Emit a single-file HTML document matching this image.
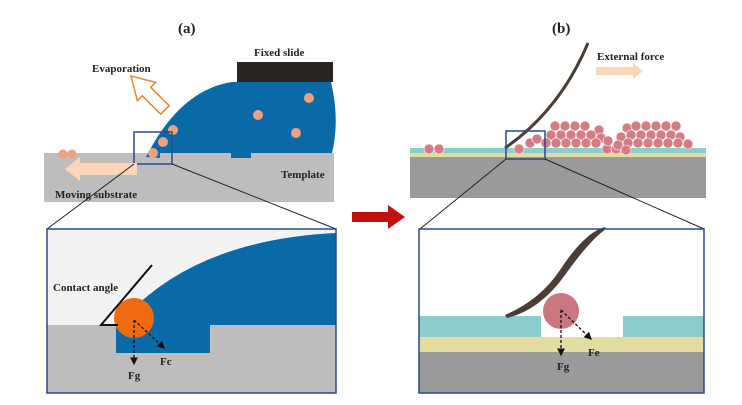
<!DOCTYPE html>
<html><head><meta charset="utf-8"><style>
html,body{margin:0;padding:0;background:#fff;width:742px;height:405px;overflow:hidden}
text{font-family:"Liberation Serif",serif;font-weight:bold;fill:#222}
</style></head><body>
<svg width="742" height="405" viewBox="0 0 742 405" xmlns="http://www.w3.org/2000/svg">
<defs>
<marker id="ah" markerWidth="6" markerHeight="6" refX="5" refY="3" orient="auto"><path d="M0,0 L6,3 L0,6 z" fill="#111"/></marker>
</defs>
<text x="178" y="33" font-size="15">(a)</text>
<text x="552" y="33" font-size="15">(b)</text>

<!-- panel a top -->
<rect x="44" y="153" width="290" height="49" fill="#bdbdbd"/>
<path d="M146,157 Q180,90 232,82 L331,82 Q340,120 332,153 L251,153 L251,158 L231,158 L231,153 L160,153 L160,158 Z" fill="#0a6aa8"/>
<rect x="237" y="62" width="96" height="20" fill="#2a2523"/>
<g fill="#f0a080">
<circle cx="173" cy="130" r="5"/><circle cx="163" cy="142" r="5"/><circle cx="153" cy="153" r="5"/>
<circle cx="258" cy="115" r="5"/><circle cx="309" cy="98" r="5"/><circle cx="296" cy="133" r="5"/>
<circle cx="63" cy="154" r="4.5"/><circle cx="72" cy="154" r="4.5"/>
</g>
<rect x="134" y="132" width="38" height="32" fill="none" stroke="#2a4a8a" stroke-width="1.5"/>
<path d="M137,163 L137,175 L80,175 L80,181 L65,169 L80,157 L80,163 Z" fill="#fcd6b8"/>
<path transform="translate(131,76) rotate(45)" d="M0,0 L22,-13 L22,-6 L48,-6 L48,6 L22,6 L22,13 Z" fill="#fff" stroke="#e08a30" stroke-width="1.5"/>
<text x="92" y="72" font-size="11">Evaporation</text>
<text x="254" y="56" font-size="11">Fixed slide</text>
<text x="281" y="178" font-size="11">Template</text>
<text x="55" y="198" font-size="11">Moving substrate</text>
<line x1="134" y1="164" x2="47" y2="229" stroke="#222" stroke-width="1"/>
<line x1="172" y1="164" x2="336" y2="229" stroke="#222" stroke-width="1"/>

<!-- panel a bottom -->
<rect x="47" y="229" width="289" height="164" fill="#f2f2f2"/>
<rect x="47" y="325" width="289" height="68" fill="#bdbdbd"/>
<path d="M118,325 Q190,240 336,233 L336,325 L210,325 L210,353 L116,353 L116,325 Z" fill="#0a6aa8"/>
<circle cx="134" cy="318" r="20" fill="#f06a10"/>
<polyline points="152,265 101,325 118,325" fill="none" stroke="#111" stroke-width="2"/>
<text x="53" y="291" font-size="11">Contact angle</text>
<line x1="134" y1="320" x2="134" y2="364" stroke="#111" stroke-width="1.3" stroke-dasharray="3,2" marker-end="url(#ah)"/>
<line x1="134" y1="320" x2="164" y2="348" stroke="#111" stroke-width="1.3" stroke-dasharray="3,2" marker-end="url(#ah)"/>
<text x="128" y="379" font-size="11">Fg</text>
<text x="160" y="365" font-size="11">Fc</text>
<rect x="47" y="229" width="289" height="164" fill="none" stroke="#2a4a8a" stroke-width="1.5"/>

<!-- red arrow -->
<path d="M352,212 L388,212 L388,205 L405,217 L388,229 L388,222 L352,222 Z" fill="#c01010"/>

<!-- panel b top -->
<rect x="410" y="157" width="296" height="41" fill="#9a9a9a"/>
<rect x="410" y="153" width="296" height="4" fill="#e2dca0"/>
<rect x="410" y="148" width="296" height="5" fill="#8ccccc"/>
<g fill="#d47c84" stroke="#fff" stroke-width="0.6">
<circle cx="429" cy="149" r="5"/><circle cx="439" cy="149" r="5"/>
<circle cx="519" cy="149" r="5"/><circle cx="530" cy="143" r="5"/><circle cx="537" cy="139" r="5"/>
<circle cx="607" cy="149" r="5"/><circle cx="616" cy="149" r="5"/>
<circle cx="555" cy="126" r="5"/><circle cx="565" cy="126" r="5"/><circle cx="575" cy="126" r="5"/><circle cx="585" cy="126" r="5"/><circle cx="599" cy="130" r="5"/>
<circle cx="627" cy="128" r="5"/><circle cx="636" cy="126" r="5"/><circle cx="646" cy="126" r="5"/><circle cx="656" cy="126" r="5"/><circle cx="666" cy="126" r="5"/><circle cx="676" cy="126" r="5"/>
<circle cx="551" cy="135" r="5"/><circle cx="561" cy="135" r="5"/><circle cx="571" cy="135" r="5"/><circle cx="581" cy="135" r="5"/><circle cx="591" cy="135" r="5"/><circle cx="601" cy="138" r="5"/><circle cx="621" cy="137" r="5"/><circle cx="631" cy="135" r="5"/><circle cx="641" cy="135" r="5"/><circle cx="651" cy="135" r="5"/><circle cx="661" cy="135" r="5"/><circle cx="671" cy="135" r="5"/><circle cx="680" cy="137" r="5"/>
<circle cx="546" cy="143" r="5"/><circle cx="556" cy="143" r="5"/><circle cx="566" cy="143" r="5"/><circle cx="576" cy="143" r="5"/><circle cx="586" cy="143" r="5"/><circle cx="596" cy="143" r="5"/><circle cx="608" cy="141" r="5"/><circle cx="618" cy="145" r="5"/><circle cx="628" cy="143" r="5"/><circle cx="638" cy="143" r="5"/><circle cx="648" cy="143" r="5"/><circle cx="658" cy="143" r="5"/><circle cx="668" cy="143" r="5"/><circle cx="678" cy="143" r="5"/><circle cx="688" cy="144" r="5"/>
<circle cx="626" cy="150" r="5"/>
</g>
<path d="M505,148 Q560,110 588,43" fill="none" stroke="#4a3d35" stroke-width="3"/>
<rect x="506" y="131" width="39" height="28" fill="none" stroke="#2a4a8a" stroke-width="1.5"/>
<text x="597" y="60" font-size="11">External force</text>
<path d="M596,67 L633,67 L633,63 L643,71 L633,79 L633,75 L596,75 Z" fill="#fcd6b8"/>
<line x1="506" y1="159" x2="420" y2="229" stroke="#222" stroke-width="1"/>
<line x1="545" y1="159" x2="704" y2="229" stroke="#222" stroke-width="1"/>

<!-- panel b bottom -->
<rect x="419" y="229" width="285" height="164" fill="#fff"/>
<rect x="419" y="316" width="122" height="21" fill="#8ccccc"/>
<rect x="623" y="316" width="81" height="21" fill="#8ccccc"/>
<rect x="419" y="337" width="285" height="15" fill="#e2dca0"/>
<rect x="419" y="352" width="285" height="41" fill="#9a9a9a"/>
<circle cx="561" cy="311" r="18" fill="#c97880"/>
<path d="M505,315 Q540,300 560,270 Q585,232 605,227 L606,229 Q590,240 565,275 Q540,310 507,318 Z" fill="#4a3d35"/>
<line x1="561" y1="310" x2="561" y2="355" stroke="#111" stroke-width="1.3" stroke-dasharray="3,2" marker-end="url(#ah)"/>
<line x1="561" y1="310" x2="591" y2="339" stroke="#111" stroke-width="1.3" stroke-dasharray="3,2" marker-end="url(#ah)"/>
<text x="588" y="356" font-size="11">Fe</text>
<text x="557" y="370" font-size="11">Fg</text>
<rect x="419" y="229" width="285" height="164" fill="none" stroke="#2a4a8a" stroke-width="1.5"/>
</svg>
</body></html>
